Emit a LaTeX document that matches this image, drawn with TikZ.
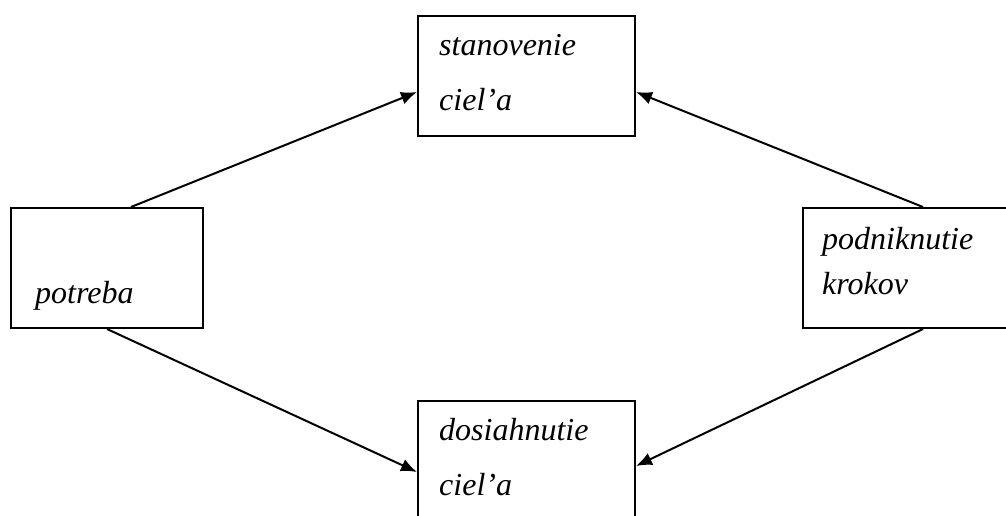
\documentclass[tikz,border=0pt]{standalone}
\usepackage{fontspec}
\setmainfont{Liberation Serif}
\usepackage{tikz}
\usetikzlibrary{arrows.meta,positioning,calc}
\tikzset{
block/.style = {draw, fill=white, rectangle, line width=2pt, minimum height=120pt, inner sep=0pt},
txt/.style  = {anchor=base west, inner sep=0pt, font=\fontsize{32}{38}\selectfont\itshape},
link/.style = {-{Latex[length=16pt,width=13pt]}, line width=2pt}
}
\begin{document}
\begin{tikzpicture}[x=1pt, y=-1pt]
					\clip (0,0) rectangle (1006,515);
					\node[block, minimum width=217pt] (stan) at (526.5,76) {};
					\node[block, minimum width=192pt] (pot) at (107,268) {};
					\node[block, minimum width=207pt] (kro) at (906.5,268) {};
					\node[block, minimum width=217pt] (dos) at (526.5,461) {};
					\node[txt] (stan1) at (439,55) {stanovenie};
					\node[txt] (stan2) at (439,110) {ciel’a};
					\node[txt] (pot1) at (35,303) {potreba};
					\node[txt] (kro1) at (822,249) {podniknutie};
					\node[txt] (kro2) at (822,294) {krokov};
					\node[txt] (dos1) at (439,440) {dosiahnutie};
					\node[txt] (dos2) at (439,495) {ciel’a};
					\draw[link] ([xshift=24pt]pot.north) -- ([yshift=-16pt]stan.west);
					\draw[link] ([xshift=16.5pt]kro.north) -- ([yshift=-16pt]stan.east);
					\draw[link] (pot.south) -- ([yshift=-11pt]dos.west);
					\draw[link] ([xshift=16.5pt]kro.south) -- ([yshift=-5pt]dos.east);
				\end{tikzpicture}
\end{document}
